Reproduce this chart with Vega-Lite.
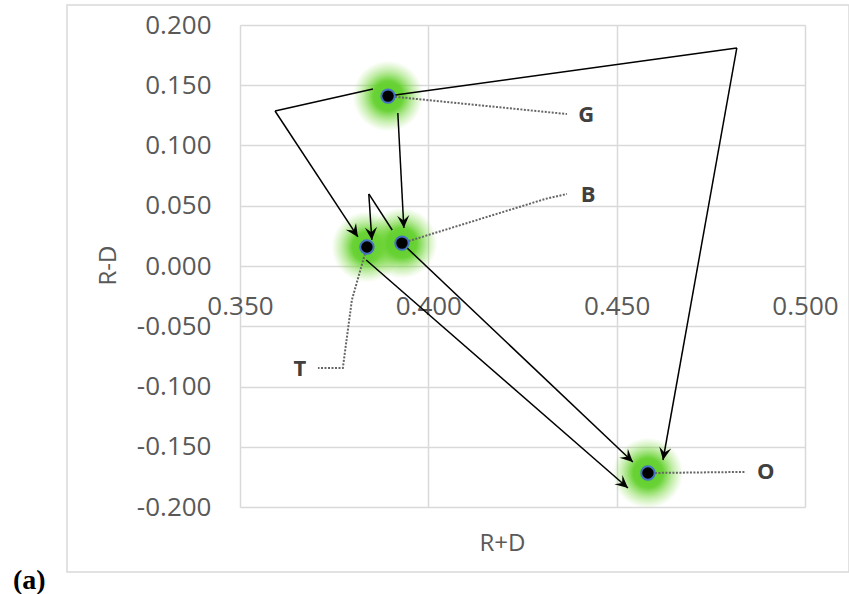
{
  "$schema": "https://vega.github.io/schema/vega-lite/v6.json",
  "width": 782,
  "height": 567,
  "autosize": "none",
  "padding": {"left": 67, "top": 5, "right": 0, "bottom": 22},
  "background": "white",
  "title": {"text": "(a)", "orient": "bottom", "anchor": "start", "frame": "group", "font": "Liberation Serif", "fontSize": 28, "fontWeight": "bold", "color": "#000000", "dx": -54, "offset": 17, "baseline": "alphabetic"},
  "config": {
    "view": {"stroke": "#d9d9d9", "strokeWidth": 1.5},
    "locale": {"number": {"decimal": ".", "thousands": ",", "grouping": [3], "currency": ["$", ""], "minus": "-"}}
  },
  "resolve": {"axis": {"x": "independent"}},
  "datasets": {
    "points": [
      {"name": "G", "x": 0.3893, "y": 0.141},
      {"name": "T", "x": 0.3837, "y": 0.0158},
      {"name": "B", "x": 0.393, "y": 0.019},
      {"name": "O", "x": 0.4583, "y": -0.1718}
    ],
    "labels": [
      {"name": "G", "x": 0.4419, "y": 0.1253},
      {"name": "B", "x": 0.4424, "y": 0.0589},
      {"name": "T", "x": 0.3659, "y": -0.0855},
      {"name": "O", "x": 0.4896, "y": -0.171}
    ],
    "leaders": [
      {"name": "G", "ord": 0, "x": 0.3893, "y": 0.141},
      {"name": "G", "ord": 1, "x": 0.4368, "y": 0.1261},
      {"name": "B", "ord": 0, "x": 0.393, "y": 0.019},
      {"name": "B", "ord": 1, "x": 0.431, "y": 0.0556},
      {"name": "B", "ord": 2, "x": 0.4368, "y": 0.0598},
      {"name": "T", "ord": 0, "x": 0.3837, "y": 0.0158},
      {"name": "T", "ord": 1, "x": 0.3797, "y": -0.0282},
      {"name": "T", "ord": 2, "x": 0.3773, "y": -0.0846},
      {"name": "T", "ord": 3, "x": 0.3707, "y": -0.0846},
      {"name": "O", "ord": 0, "x": 0.4583, "y": -0.1718},
      {"name": "O", "ord": 1, "x": 0.4841, "y": -0.1709}
    ],
    "arrows": [
      {"id": 1, "x": 0.3853, "y": 0.1469, "x2": 0.3593, "y2": 0.1286, "head": false},
      {"id": 2, "x": 0.3593, "y": 0.1286, "x2": 0.3813, "y2": 0.0241, "head": true},
      {"id": 3, "x": 0.3893, "y": 0.141, "x2": 0.4819, "y2": 0.181, "head": false},
      {"id": 4, "x": 0.4819, "y": 0.181, "x2": 0.4623, "y2": -0.161, "head": true},
      {"id": 5, "x": 0.3919, "y": 0.127, "x2": 0.3935, "y2": 0.0315, "head": true},
      {"id": 6, "x": 0.3904, "y": 0.0299, "x2": 0.3842, "y2": 0.0598, "head": false},
      {"id": 7, "x": 0.3842, "y": 0.0598, "x2": 0.385, "y2": 0.0216, "head": true},
      {"id": 8, "x": 0.3835, "y": 0.005, "x2": 0.453, "y2": -0.1842, "head": true},
      {"id": 9, "x": 0.393, "y": 0.019, "x2": 0.4543, "y2": -0.1627, "head": true}
    ]
  },
  "layer": [
    {
      "data": {"name": "points"},
      "mark": {
        "type": "point", "shape": "circle", "filled": true, "size": 5000, "strokeWidth": 0, "opacity": 1,
        "fill": {"gradient": "radial", "x1": 0.5, "y1": 0.5, "r1": 0, "x2": 0.5, "y2": 0.5, "r2": 0.5,
          "stops": [
            {"offset": 0, "color": "rgba(92,206,40,1)"},
            {"offset": 0.42, "color": "rgba(98,208,44,0.95)"},
            {"offset": 0.7, "color": "rgba(115,214,58,0.45)"},
            {"offset": 1, "color": "rgba(140,220,80,0)"}
          ]}
      },
      "encoding": {
        "x": {
          "field": "x", "type": "quantitative",
          "scale": {"domain": [0.35, 0.5], "range": [173, 738], "nice": false, "zero": false},
          "axis": {
            "orient": "bottom", "offset": -279, "values": [0.35, 0.4, 0.45, 0.5], "format": ".3f",
            "domain": false, "ticks": false, "labelPadding": 0, "labelFlush": false, "labelOverlap": false,
            "labelFont": "Open Sans", "labelFontSize": 26, "labelColor": "#595959",
            "grid": false,
            "title": "R+D", "titleFont": "Open Sans", "titleFontSize": 24, "titleFontWeight": "normal", "titleColor": "#595959",
            "titleX": 435, "titleY": 238
          }
        },
        "y": {
          "field": "y", "type": "quantitative",
          "scale": {"domain": [-0.2, 0.2], "range": [502, 20], "nice": false, "zero": false},
          "axis": {
            "orient": "left", "offset": -144, "values": [-0.2, -0.15, -0.1, -0.05, 0, 0.05, 0.1, 0.15, 0.2], "format": ".3f",
            "domain": false, "ticks": false, "labelPadding": 0, "labelFlush": false, "labelOverlap": false,
            "labelFont": "Open Sans", "labelFontSize": 26, "labelColor": "#595959",
            "grid": true, "gridColor": "#d9d9d9", "gridWidth": 1.5,
            "title": "R-D", "titleFont": "Open Sans", "titleFontSize": 24, "titleFontWeight": "normal", "titleColor": "#595959",
            "titleX": -91, "titleY": 260
          }
        }
      }
    },
    {
      "data": {"name": "leaders"},
      "mark": {"type": "line", "color": "#666666", "strokeWidth": 2, "strokeDash": [2, 1.5]},
      "encoding": {
        "x": {
          "field": "x", "type": "quantitative",
          "axis": {"orient": "top", "values": [0.35, 0.4, 0.45, 0.5], "domain": false, "ticks": false, "labels": false, "title": null,
            "grid": true, "gridColor": "#d9d9d9", "gridWidth": 1.5}
        },
        "y": {"field": "y", "type": "quantitative"},
        "detail": {"field": "name"},
        "order": {"field": "ord", "type": "quantitative"}
      }
    },
    {
      "data": {"name": "arrows"},
      "mark": {"type": "rule", "color": "#000000", "strokeWidth": 1.5},
      "encoding": {
        "x": {"field": "x", "type": "quantitative", "axis": null},
        "y": {"field": "y", "type": "quantitative"},
        "x2": {"field": "x2"},
        "y2": {"field": "y2"}
      }
    },
    {
      "data": {"name": "arrows"},
      "transform": [
        {"filter": "datum.head"},
        {"calculate": "atan2(-(datum.y2 - datum.y) * 1205, (datum.x2 - datum.x) * 3766.67) * 180 / PI", "as": "ang"}
      ],
      "mark": {"type": "point", "shape": "M0,0L-1,-0.48L-0.6,0L-1,0.48Z", "filled": true, "fill": "#000000", "size": 650, "strokeWidth": 0, "opacity": 1},
      "encoding": {
        "x": {"field": "x2", "type": "quantitative", "axis": null},
        "y": {"field": "y2", "type": "quantitative"},
        "angle": {"field": "ang", "type": "quantitative", "scale": null}
      }
    },
    {
      "data": {"name": "points"},
      "mark": {"type": "point", "shape": "circle", "filled": true, "fill": "#000000", "stroke": "#4472c4", "strokeWidth": 2, "size": 180, "opacity": 1},
      "encoding": {
        "x": {"field": "x", "type": "quantitative", "axis": null},
        "y": {"field": "y", "type": "quantitative"}
      }
    },
    {
      "data": {"name": "labels"},
      "mark": {"type": "text", "font": "Open Sans", "fontSize": 22, "fontWeight": "bold", "color": "#404040", "align": "center", "baseline": "middle"},
      "encoding": {
        "x": {"field": "x", "type": "quantitative", "axis": null},
        "y": {"field": "y", "type": "quantitative"},
        "text": {"field": "name"}
      }
    }
  ]
}
